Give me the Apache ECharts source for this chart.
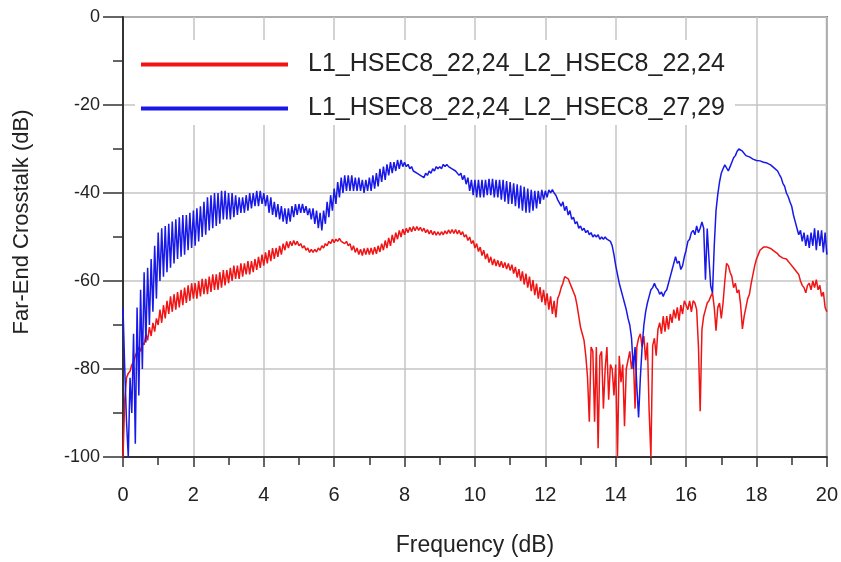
<!DOCTYPE html>
<html>
<head>
<meta charset="utf-8">
<script src="https://cdn.jsdelivr.net/npm/echarts@6/dist/echarts.min.js"></script>
<style>html,body{margin:0;padding:0;background:#fff}#c{width:841px;height:562px}</style>
</head>
<body>
<div id="c"></div>
<script>
// ---- data ----
const FREQ_START = 0;      // GHz of first sample
const FREQ_STEP = 0.05;    // spacing of the samples
const seriesNames = ['L1_HSEC8_22,24_L2_HSEC8_22,24', 'L1_HSEC8_22,24_L2_HSEC8_27,29'];
const xTickValues = [0, 2, 4, 6, 8, 10, 12, 14, 16, 18, 20];
const yTickValues = [-100, -80, -60, -40, -20, 0];
const xTitle = 'Frequency (dB)';
const yTitle = 'Far-End Crosstalk (dB)';

// red trace, one row per GHz (0.05 steps)
const red = [
  -100, -87, -82, -81, -80.5, -79, -78.5, -77, -77, -75, -76, -74, -74.5, -72, -73.5, -70.5, -72.5, -69.5, -71.5, -68.5,
  -70, -66.5, -69.5, -65.5, -68.5, -64.5, -67.5, -63.5, -67, -63, -66.5, -62.5, -66, -62, -65.5, -61.5, -65, -61, -64.5, -60.5,
  -64, -60.5, -64, -60, -63.5, -59.5, -63, -59.5, -63, -59, -62.5, -58.5, -62, -58.5, -62, -58, -61.5, -57.5, -61, -57.5,
  -60.5, -57, -60, -56.5, -59.5, -56.5, -59.5, -56, -59, -56, -58.5, -55.5, -58.5, -55.5, -58, -55, -57.5, -54.5, -57, -54,
  -56.5, -53.5, -56, -53, -55.5, -52.5, -55, -52.5, -54.5, -52, -54, -51.5, -53, -51, -52.5, -51, -52, -50.8, -51.8, -51,
  -52, -51.5, -52.5, -52, -53, -52.5, -53.5, -52.8, -53.5, -52.8, -53.4, -52.5, -53, -52, -52.5, -51.5, -52, -51, -51.5, -50.5,
  -51.3, -50.5, -51, -50.3, -51, -50.6, -51.5, -51, -52, -51.5, -53, -52, -53.5, -52.5, -54, -52.8, -54.2, -52.6, -54, -52.5,
  -54, -52.5, -54, -52.3, -53.8, -52, -53.4, -51.5, -53, -50.8, -52.5, -50.2, -52, -49.5, -51.3, -49, -50.5, -48.5, -50, -48.2,
  -49.5, -48, -49, -47.8, -48.8, -47.6, -48.6, -47.6, -48.5, -47.8, -48.7, -48, -49, -48.3, -49.3, -48.5, -49.5, -48.7, -49.6, -48.8,
  -49.6, -48.8, -49.5, -48.6, -49.3, -48.4, -49.2, -48.3, -49.2, -48.3, -49.3, -48.5, -49.5, -48.8, -50, -49.5, -50.8, -50, -51.5, -50.8,
  -52.5, -51.5, -53.3, -52.3, -54.2, -53, -55, -53.8, -55.8, -54.5, -56.4, -55, -56.6, -55.3, -56.8, -55.5, -57, -55.8, -57.3, -56,
  -57.6, -56.3, -58.3, -56.8, -59.2, -57.3, -60, -57.8, -60.8, -58.3, -61.5, -59, -62.3, -59.8, -63.2, -60.6, -64, -61.4, -64.8, -62,
  -65.5, -62.8, -66.5, -63.5, -67.5, -64.5, -68.3, -64, -63, -61.5, -60.5, -59, -58.6, -59.5, -60.5, -61.5, -62.5, -63.5, -65.5, -68,
  -70.5, -72, -73.5, -77, -82, -92, -75, -76, -92, -75, -98, -77, -76, -89, -80, -75, -87, -79, -80, -86,
  -79, -100, -77, -83, -79, -93, -80, -78, -76, -80, -77, -89, -75, -73, -72, -75, -72.5, -78, -74, -89.6,
  -100, -74.7, -73, -77, -71, -69.5, -72, -68, -71.5, -68, -71, -67.5, -69.5, -66.5, -68.5, -66, -69, -65.5, -67.5, -64.5,
  -64.2, -66.5, -64.5, -67, -64.5, -65, -66.5, -74.7, -89.6, -71, -68, -66.5, -65, -64.5, -63.5, -62.7, -66, -71.3, -66, -65,
  -68.5, -65, -60, -56, -56.5, -58, -59, -61.5, -60.5, -62.7, -62, -65.5, -70.9, -68, -66, -64, -63, -60.5, -58.5, -56.5,
  -55, -54, -53, -52.6, -52.3, -52.2, -52.3, -52.5, -52.6, -52.8, -53.2, -53.6, -53.8, -54.3, -54, -54.8, -54.5, -55, -55.5, -56,
  -56, -57, -56.7, -58, -58.5, -60, -61, -61.5, -62.7, -61, -60.5, -62, -60, -61.5, -59.7, -62, -61, -63.5, -62.5, -66,
  -67
];

// blue trace, one row per GHz (0.05 steps)
const blue = [
  -66, -80, -92, -100, -82, -90, -72, -97, -66, -86, -62, -80, -58, -74, -57, -70, -55, -67, -52, -64,
  -49, -60, -48, -59, -47.5, -58, -47, -57, -46.5, -56, -46, -55, -45.5, -54.5, -45, -54, -45, -53, -44.5, -52.5,
  -44, -52, -43.5, -51, -43, -50, -42, -49.5, -41, -48.5, -40.5, -48, -40, -47.5, -40, -47, -39.5, -46, -39.5, -46,
  -40, -46, -40, -45.5, -40.5, -45, -41, -44.5, -41, -44.5, -40.5, -44, -40, -43.5, -40, -43, -39.5, -43, -39.5, -42.5,
  -40, -43, -40.5, -44.5, -41, -45, -42, -45.5, -42.5, -46, -43, -46.5, -43.5, -47, -43.5, -46.5, -43, -45.5, -42.5, -45,
  -42.5, -44.5, -42.5, -44.5, -43, -45, -43.5, -46, -43.5, -47, -44, -48, -44.5, -48.5, -44, -47, -42, -45.5, -40.5, -44,
  -39, -42.5, -37.5, -41, -36.5, -40, -36, -39.5, -36, -39.5, -36, -39.5, -36.5, -39.5, -36.5, -39.5, -37, -40, -37, -39.5,
  -36.5, -39.5, -36, -39, -35.5, -38.5, -34.5, -37.5, -34, -37, -33.5, -36, -33, -35.5, -33, -35, -32.5, -34.5, -32.5, -34,
  -33, -34, -33.5, -34.5, -34, -35, -35, -35.5, -35.5, -36, -36, -36.5, -35.5, -36, -35, -35.5, -34.5, -35, -34, -34.5,
  -34, -34.5, -33.5, -34, -33.5, -34, -33.8, -34.5, -34.5, -35, -35, -36, -35.5, -37, -36, -38, -36.5, -39.5, -37, -40.5,
  -37, -41, -37, -41, -37, -41, -37, -40.5, -36.8, -40.5, -36.8, -41, -37, -41, -37, -41.5, -37, -42, -37.3, -42.5,
  -37.5, -42.5, -37.8, -43, -38, -43.5, -38.3, -44, -38.6, -44.5, -39, -44.5, -39.3, -44, -39.5, -43.5, -39.5, -42.5, -39.3, -41.5,
  -39.5, -41, -39.3, -40, -39.2, -40, -40.5, -41.5, -41.5, -43, -42, -44, -43, -45, -44, -46, -45.5, -47, -46.5, -48,
  -47.5, -48.5, -48, -49, -48.5, -49.5, -49, -50, -49.5, -50, -49.5, -50.5, -50, -50.5, -50, -50.5, -50.5, -51, -52, -54,
  -56.5, -58.5, -60.5, -62, -63.5, -65, -66.5, -68.5, -70, -73, -80, -75, -84, -91, -82, -75, -70, -67, -65, -63.5,
  -62, -61.5, -60.5, -61.5, -62, -63, -62.5, -63.5, -62.5, -62, -60.5, -59, -57.5, -56, -54.5, -56, -55.5, -57.4, -56.5, -54.5,
  -53, -51, -50.5, -49, -48.5, -49.5, -47.5, -49, -48, -46.6, -48, -59.7, -48.1, -55, -61.2, -62.7, -52, -44, -40.3, -37.5,
  -35.5, -34.5, -33.6, -34, -35, -34, -33, -32, -31.5, -30.5, -30, -29.8, -30.5, -30.8, -31.5, -31.3, -31.8, -32, -32.3, -32.5,
  -32.6, -32.9, -32.7, -33, -33, -32.8, -33.2, -33.3, -33.6, -34, -34.3, -34.5, -35, -35.8, -36.5, -37.8, -38.5, -40, -40.8, -42,
  -43, -45, -46.5, -48, -49.5, -48.5, -51, -49, -52, -49.5, -52.5, -49, -52, -48, -53, -48.5, -52, -48.5, -53.5, -49,
  -54
];

// ---- chart ----
const FONT = "'Liberation Sans', Arial, Helvetica, sans-serif";
const RED = '#f01414';
const BLUE = '#1818e8';

function toPairs(vals) {
  return vals.map((v, i) => [+(FREQ_START + i * FREQ_STEP).toFixed(2), v]);
}

const xMin = xTickValues[0], xMax = xTickValues[xTickValues.length - 1];
const xInt = xTickValues[1] - xTickValues[0];
const yMin = yTickValues[0], yMax = yTickValues[yTickValues.length - 1];
const yInt = yTickValues[1] - yTickValues[0];

const chart = echarts.init(document.getElementById('c'), null, { renderer: 'canvas' });
chart.setOption({
  animation: false,
  backgroundColor: '#ffffff',
  textStyle: { fontFamily: FONT },
  grid: {
    left: 123, right: 13, top: 17, bottom: 99,
    show: true, borderColor: '#6e6e6e', borderWidth: 2
  },
  legend: {
    data: seriesNames,
    orient: 'vertical',
    left: 135, top: 40,
    padding: [12, 10, 4, 6],
    itemWidth: 147, itemHeight: 4,
    itemGap: 19,
    icon: 'rect',
    backgroundColor: '#ffffff',
    textStyle: { fontSize: 25, color: '#222', fontFamily: FONT, padding: [0, 0, 0, 15], lineHeight: 24 }
  },
  xAxis: {
    type: 'value', min: xMin, max: xMax, interval: xInt,
    name: xTitle, nameLocation: 'middle', nameGap: 77,
    nameTextStyle: { fontSize: 23, color: '#222', fontFamily: FONT },
    axisLine: { show: true, onZero: false, lineStyle: { color: '#333', width: 2 } },
    axisTick: { show: true, length: 10, lineStyle: { color: '#333', width: 1.5 } },
    minorTick: { show: true, splitNumber: 2, length: 8, lineStyle: { color: '#333', width: 1.5 } },
    axisLabel: { fontSize: 20, color: '#222', margin: 28, fontFamily: FONT },
    splitLine: { show: true, lineStyle: { color: '#c4c4c4', width: 1.5 } }
  },
  yAxis: {
    type: 'value', min: yMin, max: yMax, interval: yInt,
    name: yTitle, nameLocation: 'middle', nameGap: 90,
    nameTextStyle: { fontSize: 22, color: '#222', fontFamily: FONT, padding: [0, 0, 0, 30] },
    axisLine: { show: true, onZero: false, lineStyle: { color: '#333', width: 2 } },
    axisTick: { show: true, length: 20, lineStyle: { color: '#333', width: 1.5 } },
    minorTick: { show: true, splitNumber: 2, length: 10, lineStyle: { color: '#333', width: 1.5 } },
    axisLabel: { fontSize: 18, color: '#222', margin: 23, fontFamily: FONT },
    splitLine: { show: true, lineStyle: { color: '#c4c4c4', width: 1.5 } }
  },
  series: [
    {
      name: seriesNames[0], type: 'line', data: toPairs(red),
      symbol: 'none', showSymbol: false, color: RED,
      lineStyle: { color: RED, width: 1.5 }, clip: true
    },
    {
      name: seriesNames[1], type: 'line', data: toPairs(blue),
      symbol: 'none', showSymbol: false, color: BLUE,
      lineStyle: { color: BLUE, width: 1.5 }, clip: true
    }
  ]
});
</script>
</body>
</html>
